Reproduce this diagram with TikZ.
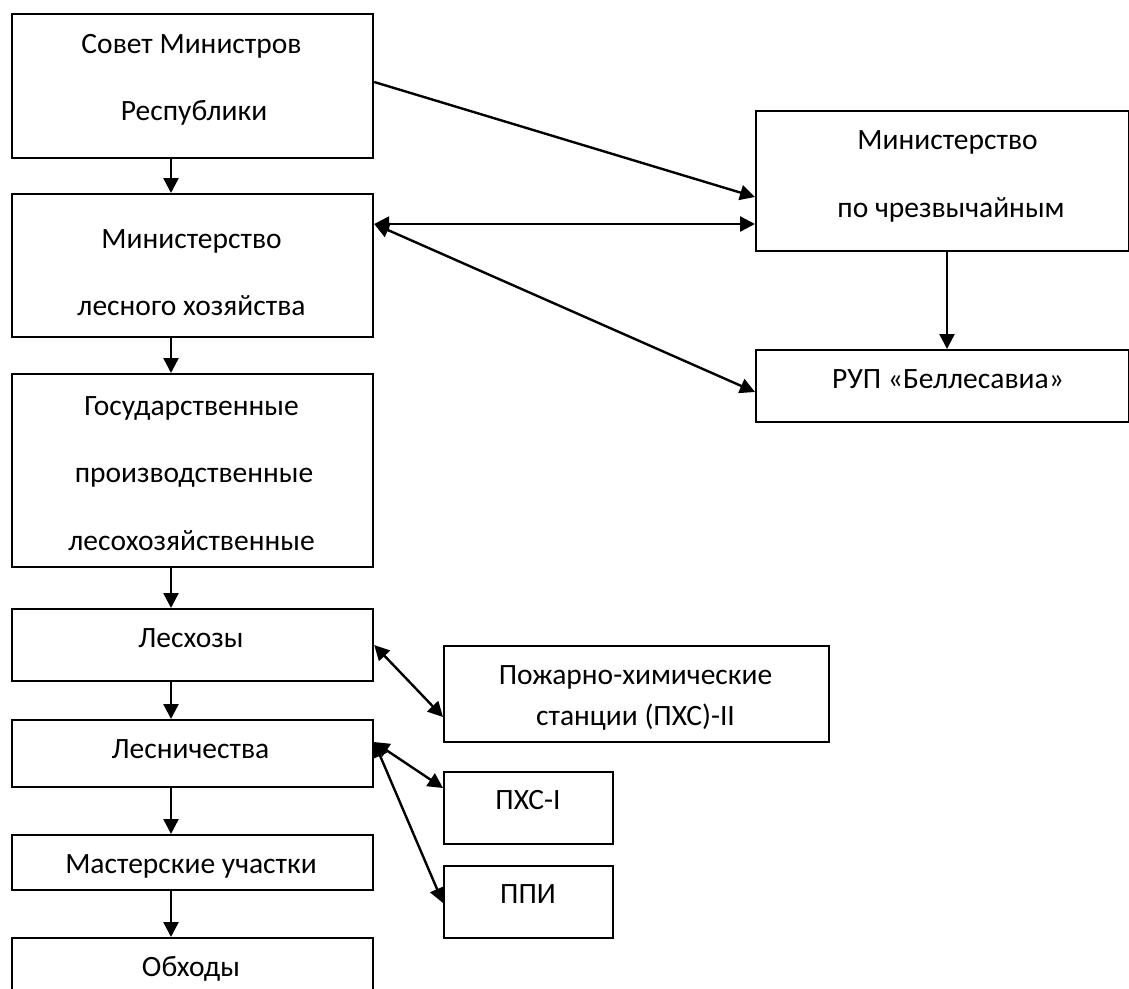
\documentclass[tikz,border=0pt]{standalone}
\usepackage{fontspec}
\setmainfont{Carlito}
\usetikzlibrary{arrows.meta}
\begin{document}
\begin{tikzpicture}[x=1pt,y=-1pt,
  box/.style={draw=black,line width=2.2pt,inner sep=0pt,anchor=north west},
  lbl/.style={anchor=base,inner sep=0pt,font=\fontsize{29.5}{36}\selectfont},
  arr/.style={line width=2.4pt,-{Triangle[length=15pt,width=15pt]}},
  darr/.style={line width=2.4pt,{Triangle[length=15pt,width=15pt]}-{Triangle[length=15pt,width=15pt]}}]
\clip (0,0) rectangle (1129,988);
\fill[white] (0,0) rectangle (1129,988);

% boxes of the left column
\node[box,minimum width=361pt,minimum height=144pt] (sovet) at (11,13) {};
\node[box,minimum width=361pt,minimum height=143pt] (minles) at (11,193) {};
\node[box,minimum width=361pt,minimum height=193pt] (gplo) at (11,373) {};
\node[box,minimum width=361pt,minimum height=72pt] (leshoz) at (11,608) {};
\node[box,minimum width=361pt,minimum height=67pt] (lesnich) at (11,719) {};
\node[box,minimum width=361pt,minimum height=55pt] (master) at (11,834) {};
\node[box,minimum width=361pt,minimum height=70pt] (obhod) at (11,937) {};

% boxes on the right
\node[box,minimum width=373pt,minimum height=140pt] (mchs) at (755,110) {};
\node[box,minimum width=373pt,minimum height=72pt] (rup) at (755,349) {};
\node[box,minimum width=385pt,minimum height=96pt] (phs2) at (443,645) {};
\node[box,minimum width=169pt,minimum height=72pt] (phs1) at (443,771) {};
\node[box,minimum width=169pt,minimum height=72pt] (ppi) at (443,865) {};

% texts
\node[lbl] (t-sovet1) at (191.5,53) {Совет Министров};
\node[lbl] (t-sovet2) at (194,120) {Республики};
\node[lbl] (t-minles1) at (191.5,248) {Министерство};
\node[lbl] (t-minles2) at (191.5,315) {лесного хозяйства};
\node[lbl] (t-gplo1) at (191.5,415) {Государственные};
\node[lbl] (t-gplo2) at (194,482) {производственные};
\node[lbl] (t-gplo3) at (191.5,550) {лесохозяйственные};
\node[lbl] (t-leshoz) at (191,647) {Лесхозы};
\node[lbl] (t-lesnich) at (190.5,758) {Лесничества};
\node[lbl] (t-master) at (191,873) {Мастерские участки};
\node[lbl] (t-obhod) at (191,976) {Обходы};
\node[lbl] (t-mchs1) at (947.5,149) {Министерство};
\node[lbl] (t-mchs2) at (951,217) {по чрезвычайным};
\node[lbl] (t-rup) at (948,388) {РУП «Беллесавиа»};
\node[lbl] (t-phs2a) at (635.5,684) {Пожарно-химические};
\node[lbl] (t-phs2b) at (635.5,725) {станции (ПХС)-II};
\node[lbl] (t-phs1) at (528,809) {ПХС-I};
\node[lbl] (t-ppi) at (528,903) {ППИ};

% vertical chain
\coordinate (ax) at (171,0);
\draw[arr] (sovet.south -| ax) -- (minles.north -| ax);
\draw[arr] (minles.south -| ax) -- (gplo.north -| ax);
\draw[arr] (gplo.south -| ax) -- (leshoz.north -| ax);
\draw[arr] (leshoz.south -| ax) -- (lesnich.north -| ax);
\draw[arr] (lesnich.south -| ax) -- (master.north -| ax);
\draw[arr] (master.south -| ax) -- (obhod.north -| ax);

% links to the right-hand boxes
\draw[arr] (sovet.east |- 0,82) -- (mchs.west |- 0,197);
\draw[darr] (minles.east |- 0,224) -- (mchs.west |- 0,224);
\draw[darr] (minles.east |- 0,224) -- (rup.west |- 0,392);
\draw[arr] (mchs.south -| 947,0) -- (rup.north -| 947,0);
\draw[darr] (leshoz.east |- 0,645) -- (phs2.west |- 0,717);
\draw[darr] (lesnich.east |- 0,742) -- (phs1.west |- 0,788);
\draw[darr] (lesnich.east |- 0,742) -- (ppi.west |- 0,903);
\end{tikzpicture}
\end{document}
